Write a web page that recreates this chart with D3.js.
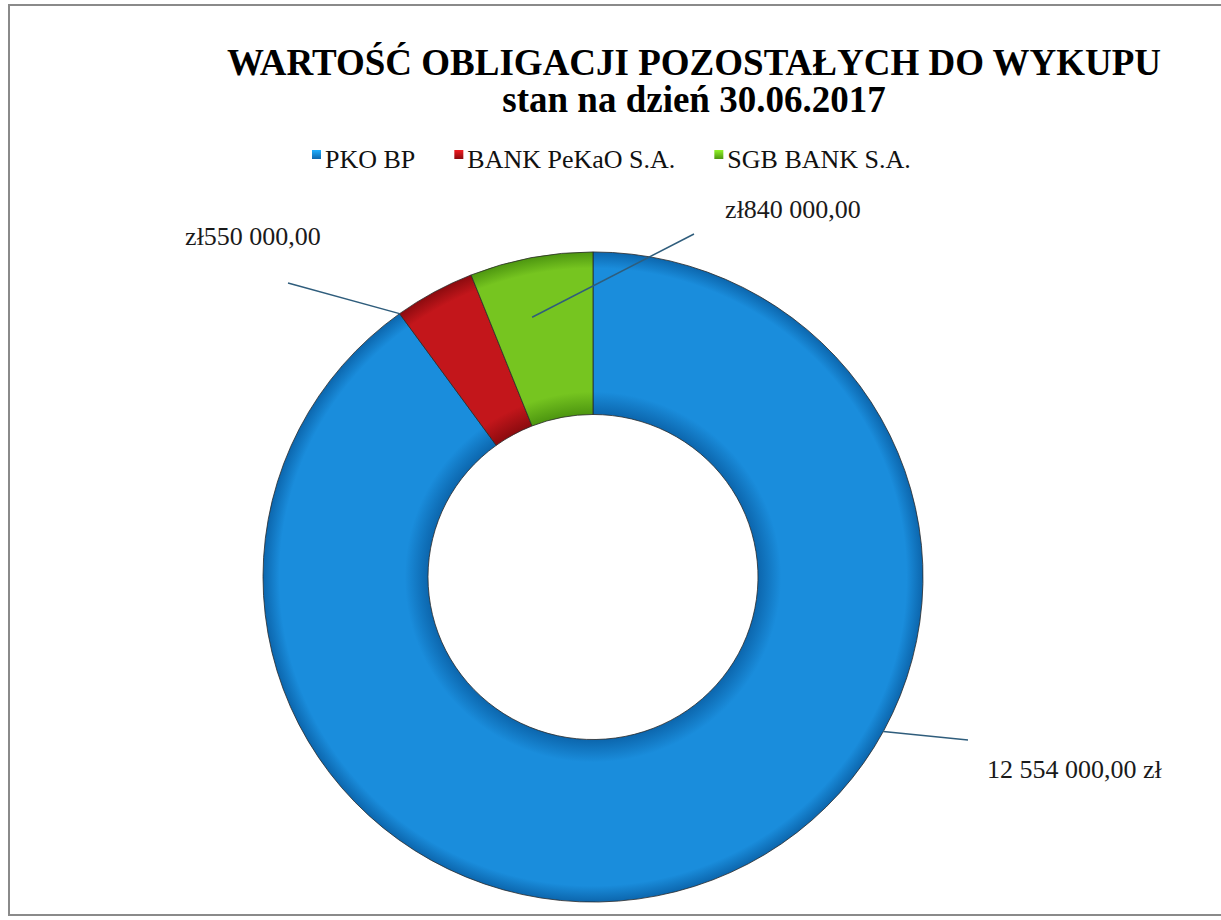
<!DOCTYPE html>
<html>
<head>
<meta charset="utf-8">
<script src="https://cdn.jsdelivr.net/npm/d3@7"></script>
<style>
body { margin: 0; background: #fff; }
text { font-family: "Liberation Serif", "Times New Roman", serif; }
</style>
</head>
<body>
<div id="chart"></div>
<script>
let banks = ["PKO BP", "BANK PeKaO S.A.", "SGB BANK S.A."]
let amounts = [12554000, 550000, 840000]
let amountLabels = ["12 554 000,00 zł", "zł550 000,00", "zł840 000,00"]
let colors = ["#1a8ddc", "#c3161b", "#76c520"]
let edgeColors = ["#0c66ad", "#8c0b0f", "#4d9610"]
let titleLines = ["WARTOŚĆ OBLIGACJI POZOSTAŁYCH DO WYKUPU", "stan na dzień 30.06.2017"]

let w = 1221, h = 920,
	cx = 593, cy = 577, outerR = 330, innerR = 165, squash = 0.985

let svg = d3.select("#chart").append("svg")
	.attr("width", w)
	.attr("height", h)

// frame of the chart area
svg.append("rect")
	.attr("x", 9).attr("y", 5)
	.attr("width", 1222).attr("height", 910)
	.attr("fill", "none")
	.attr("stroke", "#8a8a8a")
	.attr("stroke-width", 2)

// title
svg.append("text")
	.attr("x", 694).attr("y", 75)
	.attr("text-anchor", "middle")
	.attr("font-size", 37)
	.attr("font-weight", "bold")
	.text(titleLines[0])
svg.append("text")
	.attr("x", 694).attr("y", 112)
	.attr("text-anchor", "middle")
	.attr("font-size", 37)
	.attr("font-weight", "bold")
	.text(titleLines[1])

// gradients, darker near the ring edges like the original
let defs = svg.append("defs")
colors.forEach((c, i) => {
	let g = defs.append("radialGradient")
		.attr("id", "grad" + i)
		.attr("gradientUnits", "userSpaceOnUse")
		.attr("cx", 0).attr("cy", 0).attr("r", outerR)
	g.append("stop").attr("offset", innerR / outerR).attr("stop-color", edgeColors[i])
	g.append("stop").attr("offset", innerR / outerR + 0.07).attr("stop-color", c)
	g.append("stop").attr("offset", 0.95).attr("stop-color", c)
	g.append("stop").attr("offset", 1).attr("stop-color", edgeColors[i])
	let lg = defs.append("linearGradient")
		.attr("id", "key" + i)
		.attr("x1", 0).attr("y1", 0).attr("x2", 0).attr("y2", 1)
	lg.append("stop").attr("offset", 0).attr("stop-color", d3.color(c).brighter(0.6))
	lg.append("stop").attr("offset", 1).attr("stop-color", edgeColors[i])
})

let pie = d3.pie().sort(null).value(d => d)
let arcs = pie(amounts)
let arc = d3.arc().innerRadius(innerR).outerRadius(outerR)

let ring = svg.append("g")
	.attr("transform", "translate(" + cx + "," + cy + ") scale(1," + squash + ")")

ring.selectAll("path")
	.data(arcs)
	.enter()
	.append("path")
	.attr("d", arc)
	.attr("fill", (d, i) => "url(#grad" + i + ")")
	.attr("stroke", "#2a2a2a")
	.attr("stroke-width", 0.8)

// legend
let legend = svg.append("g").attr("transform", "translate(312,168)")
let lx = 0
banks.forEach((b, i) => {
	legend.append("rect")
		.attr("x", lx).attr("y", -18)
		.attr("width", 9).attr("height", 9)
		.attr("fill", "url(#key" + i + ")")
	let t = legend.append("text")
		.attr("x", lx + 13).attr("y", 0)
		.attr("font-size", 26)
		.attr("fill", "#111")
		.text(b)
	lx += 13 + t.node().getComputedTextLength() + 39
})

// data labels with leader lines (placed by hand in the original)
let polar = (a, r) => [cx + r * Math.sin(a), cy - r * Math.cos(a) * squash]
let deg = Math.PI / 180
let labelLayout = [
	{from: d => polar(118.4 * deg, outerR), end: [375, 163], text: [394, 201], anchor: "start"},
	{from: d => polar(d.startAngle, outerR), end: [-305, -294], text: [-340, -332], anchor: "middle"},
	{from: d => polar(347 * deg, outerR * 0.82), end: [101, -343], text: [200, -359], anchor: "middle"}
]

arcs.forEach((d, i) => {
	let L = labelLayout[i], p = L.from(d)
	svg.append("line")
		.attr("x1", p[0]).attr("y1", p[1])
		.attr("x2", cx + L.end[0]).attr("y2", cy + L.end[1])
		.attr("stroke", "#2f5d7c")
		.attr("stroke-width", 1.5)
	svg.append("text")
		.attr("x", cx + L.text[0]).attr("y", cy + L.text[1])
		.attr("text-anchor", L.anchor)
		.attr("font-size", 26)
		.attr("fill", "#1a1a1a")
		.text(amountLabels[i])
})
</script>
</body>
</html>
